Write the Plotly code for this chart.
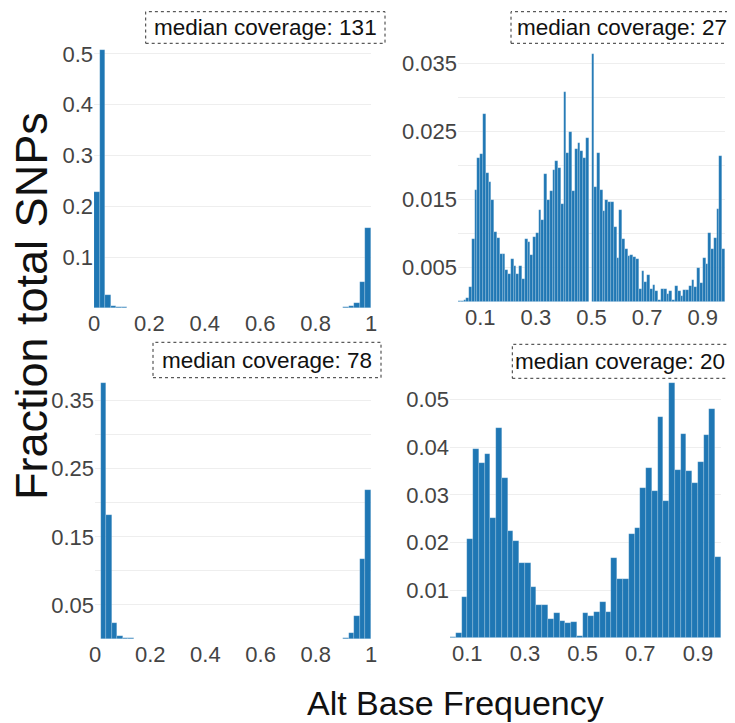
import plotly.graph_objects as go

# ---------------- data ----------------
# top-left panel: median coverage 131, bins of width 0.02 over [0, 1]
tl_bin_width = 0.02
tl_values = [0.229, 0.507, 0.0256, 0.004, 0.0015, 0.001, 0.0007, 0.0005, 0.0004, 0.0003,
             0.0003, 0.0002, 0.0002, 0.0002, 0.0001, 0.0001, 0.0001, 0.0001, 0.0001, 0.0001,
             0.0001, 0.0001, 0.0001, 0.0001, 0.0001, 0.0001, 0.0001, 0.0001, 0.0001, 0.0001,
             0.0001, 0.0001, 0.0001, 0.0001, 0.0001, 0.0001, 0.0001, 0.0001, 0.0001, 0.0001,
             0.0001, 0.0002, 0.0002, 0.0003, 0.0004, 0.001, 0.003, 0.009, 0.052, 0.158]

# bottom-left panel: median coverage 78
bl_bin_width = 0.02
bl_values = [0.0, 0.3755, 0.182, 0.023, 0.004, 0.0015, 0.001, 0.0007, 0.0005, 0.0004,
             0.0003, 0.0003, 0.0002, 0.0002, 0.0001, 0.0001, 0.0001, 0.0001, 0.0001, 0.0001,
             0.0001, 0.0001, 0.0001, 0.0001, 0.0001, 0.0001, 0.0001, 0.0001, 0.0001, 0.0001,
             0.0001, 0.0001, 0.0001, 0.0001, 0.0001, 0.0001, 0.0001, 0.0001, 0.0001, 0.0001,
             0.0001, 0.0002, 0.0002, 0.0003, 0.0005, 0.002, 0.009, 0.034, 0.118, 0.219]

# top-right panel: median coverage 27, bins of width 0.01 starting at 0.02
tr_bin_start = 0.02
tr_bin_width = 0.01
tr_values = [0.0001, 0.0001, 0.0002, 0.0006, 0.0021, 0.0092, 0.0164, 0.0211, 0.0217, 0.0276,
             0.019, 0.0176, 0.015, 0.0102, 0.0094, 0.007, 0.007, 0.0046, 0.0041, 0.0063,
             0.0052, 0.0041, 0.0052, 0.0034, 0.0092, 0.0088, 0.0068, 0.0095, 0.0101, 0.0135,
             0.012, 0.0188, 0.015, 0.0163, 0.0194, 0.0207, 0.0197, 0.0144, 0.0308, 0.0218,
             0.025, 0.0163, 0.0224, 0.0234, 0.0222, 0.0212, 0.0241, 0.0, 0.0365, 0.0168,
             0.0218, 0.0164, 0.0134, 0.015, 0.0147, 0.0146, 0.011, 0.0065, 0.0135, 0.0092,
             0.0078, 0.0067, 0.0068, 0.0066, 0.0063, 0.0018, 0.0045, 0.0029, 0.004, 0.0018,
             0.0024, 0.0016, 0.0003, 0.0018, 0.0018, 0.0011, 0.0016, 0.0003, 0.0023, 0.0016,
             0.0008, 0.0017, 0.0017, 0.0023, 0.0032, 0.0022, 0.005, 0.0028, 0.0065, 0.0056,
             0.0101, 0.0077, 0.0094, 0.0137, 0.0214, 0.0077]

# bottom-right panel: median coverage 20, bins of width 0.02 starting at 0.04
br_bin_start = 0.04
br_bin_width = 0.02
br_values = [0.0002, 0.001, 0.0086, 0.0207, 0.0396, 0.0368, 0.0385, 0.0251, 0.0441, 0.0335,
             0.0225, 0.0204, 0.0156, 0.0156, 0.0106, 0.0069, 0.0068, 0.0039, 0.0051, 0.0036,
             0.003, 0.0033, 0.0003, 0.0051, 0.0046, 0.0053, 0.0074, 0.0053, 0.0167, 0.0123,
             0.0123, 0.0217, 0.023, 0.0315, 0.0357, 0.0308, 0.0463, 0.0287, 0.0536, 0.0352,
             0.0429, 0.035, 0.0326, 0.037, 0.0426, 0.048, 0.0169]

coverage_labels = ["median coverage: 131", "median coverage: 27",
                   "median coverage: 78", "median coverage: 20"]

left_xticks = [0, 0.2, 0.4, 0.6, 0.8, 1]
left_xticklabels = ["0", "0.2", "0.4", "0.6", "0.8", "1"]
right_xticks = [0.1, 0.3, 0.5, 0.7, 0.9]
right_xticklabels = ["0.1", "0.3", "0.5", "0.7", "0.9"]

tl_yticks = [0.1, 0.2, 0.3, 0.4, 0.5]
tl_yticklabels = ["0.1", "0.2", "0.3", "0.4", "0.5"]
tr_yticks = [0.005, 0.01, 0.015, 0.02, 0.025, 0.03, 0.035]
tr_yticklabels = ["0.005", "", "0.015", "", "0.025", "", "0.035"]
bl_yticks = [0.05, 0.1, 0.15, 0.2, 0.25, 0.3, 0.35]
bl_yticklabels = ["0.05", "", "0.15", "", "0.25", "", "0.35"]
br_yticks = [0.01, 0.02, 0.03, 0.04, 0.05]
br_yticklabels = ["0.01", "0.02", "0.03", "0.04", "0.05"]

x_title = "Alt Base Frequency"
y_title = "Fraction total SNPs"

# ---------------- figure ----------------
W, H = 735, 723
OFF = 8  # page body margin in the screenshot
BLUE = "#1f77b4"
FONT = "Liberation Sans, Arial, Helvetica, sans-serif"


def px_x(p):
    return (p - OFF) / W


def px_y(p):
    return 1 - (p - OFF) / H


def centers(start, width, n):
    return [start + width * (i + 0.5) for i in range(n)]


fig = go.Figure()

panels = [
    (tl_values, 0.0, tl_bin_width, "x", "y"),
    (tr_values, tr_bin_start, tr_bin_width, "x2", "y2"),
    (bl_values, 0.0, bl_bin_width, "x3", "y3"),
    (br_values, br_bin_start, br_bin_width, "x4", "y4"),
]
for vals, start, width, xa, ya in panels:
    fig.add_trace(go.Bar(
        x=centers(start, width, len(vals)), y=vals, width=width,
        marker=dict(color=BLUE, line=dict(color="rgba(255,255,255,0.35)", width=0.5)),
        xaxis=xa, yaxis=ya, showlegend=False, hoverinfo="x+y",
    ))

# pixel boxes of each plot area (left, right, top, bottom) in screenshot pixels
boxes = {
    "tl": (94, 371, 45, 308),
    "tr": (458, 725, 45, 301.7),
    "bl": (95, 371, 380, 639),
    "br": (450, 721, 380, 637.7),
}

tick_font = dict(family=FONT, size=22, color="#444")
grid = "#eeeeee"


def xaxis_cfg(box, rng, tv, tt):
    l, r, t, b = box
    return dict(domain=[px_x(l), px_x(r)], range=rng, tickvals=tv, ticktext=tt,
                showgrid=False, zeroline=False, showline=False, ticks="",
                tickfont=tick_font, fixedrange=True, automargin=False)


def yaxis_cfg(box, rng, tv, tt):
    l, r, t, b = box
    return dict(domain=[px_y(b), px_y(t)], range=rng, tickvals=tv, ticktext=tt,
                showgrid=True, gridcolor=grid, gridwidth=1, zeroline=False,
                showline=False, ticks="", tickfont=tick_font, fixedrange=True,
                automargin=False)


fig.update_layout(
    template="none",
    width=W, height=H,
    margin=dict(l=0, r=0, t=0, b=0, autoexpand=False),
    paper_bgcolor="white", plot_bgcolor="white",
    bargap=0,
    font=dict(family=FONT, color="#444"),
    xaxis=xaxis_cfg(boxes["tl"], [0, 1], left_xticks, left_xticklabels) | dict(anchor="y"),
    yaxis=yaxis_cfg(boxes["tl"], [0, 0.5177], tl_yticks, tl_yticklabels) | dict(anchor="x"),
    xaxis2=xaxis_cfg(boxes["tr"], [0.02, 0.98], right_xticks, right_xticklabels) | dict(anchor="y2"),
    yaxis2=yaxis_cfg(boxes["tr"], [0, 0.03775], tr_yticks, tr_yticklabels) | dict(anchor="x2"),
    xaxis3=xaxis_cfg(boxes["bl"], [0, 1], left_xticks, left_xticklabels) | dict(anchor="y3"),
    yaxis3=yaxis_cfg(boxes["bl"], [0, 0.3803], bl_yticks, bl_yticklabels) | dict(anchor="x3"),
    xaxis4=xaxis_cfg(boxes["br"], [0.04, 0.98], right_xticks, right_xticklabels) | dict(anchor="y4"),
    yaxis4=yaxis_cfg(boxes["br"], [0, 0.05414], br_yticks, br_yticklabels) | dict(anchor="x4"),
)

# annotation boxes (dotted) with coverage labels
label_boxes = [
    (145.7, 385, 11.7, 43.3),
    (511, 732.7, 11.7, 43.3),
    (153, 381, 342.3, 377.7),
    (512.3, 728.3, 344.3, 378.3),
]
for (l, r, t, b), txt in zip(label_boxes, coverage_labels):
    fig.add_shape(type="rect", xref="paper", yref="paper",
                  x0=px_x(l), x1=px_x(r), y0=px_y(b), y1=px_y(t),
                  line=dict(color="#333", width=1, dash="dot"), fillcolor="white", layer="above")
    fig.add_annotation(xref="paper", yref="paper", x=px_x((l + r) / 2), y=px_y((t + b) / 2),
                       text=txt, showarrow=False, xanchor="center", yanchor="middle",
                       font=dict(family=FONT, size=22.5, color="#111"))

fig.add_annotation(xref="paper", yref="paper", x=px_x(31), y=px_y(306),
                   text=y_title, textangle=-90, showarrow=False,
                   xanchor="center", yanchor="middle",
                   font=dict(family=FONT, size=45, color="#111"))
fig.add_annotation(xref="paper", yref="paper", x=px_x(455), y=px_y(703),
                   text=x_title, showarrow=False, xanchor="center", yanchor="middle",
                   font=dict(family=FONT, size=34, color="#111"))

fig.write_html("out.html")
